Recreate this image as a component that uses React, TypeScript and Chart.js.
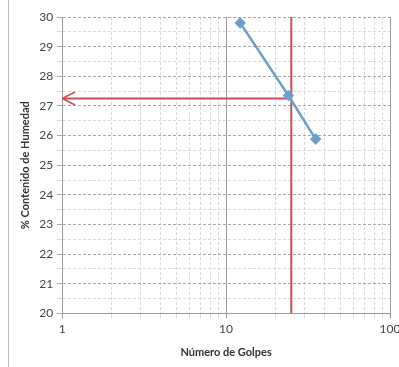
import React, { useEffect, useRef } from "react";
import { Chart, registerables } from "chart.js";

Chart.register(...registerables);

const golpes = [12.2, 24, 35.2];
const humedad = [29.8, 27.35, 25.88];
const lineaVertical = [
  { x: 25, y: 20 },
  { x: 25, y: 30 },
];
const lineaHorizontal = [
  { x: 25, y: 27.25 },
  { x: 1, y: 27.25 },
];
const puntaFlecha = [
  { x: 1.2, y: 27.47 },
  { x: 1, y: 27.25 },
  { x: 1.2, y: 27.03 },
];
const xTicks = [1, 2, 3, 4, 5, 6, 7, 8, 9, 10, 20, 30, 40, 50, 60, 70, 80, 90, 100];
const xLabels = [1, 10, 100];
const yTicks = [20, 20.5, 21, 21.5, 22, 22.5, 23, 23.5, 24, 24.5, 25, 25.5, 26, 26.5, 27, 27.5, 28, 28.5, 29, 29.5, 30];

const FONT = "Lato, 'Open Sans', sans-serif";

export default function App() {
  const ref = useRef<HTMLCanvasElement | null>(null);
  useEffect(() => {
    document.body.style.margin = "0";
    const ctx = ref.current!.getContext("2d")!;
    const chart = new Chart(ctx, {
      type: "line",
      data: {
        datasets: [
          {
            data: lineaVertical,
            borderColor: "#c9504f",
            borderWidth: 2,
            pointRadius: 0,
            order: 2,
          },
          {
            data: lineaHorizontal,
            borderColor: "#c9504f",
            borderWidth: 2,
            pointRadius: 0,
            order: 2,
          },
          {
            data: puntaFlecha,
            borderColor: "#c9504f",
            borderWidth: 1.5,
            pointRadius: 0,
            order: 2,
          },
          {
            data: golpes.map((g, i) => ({ x: g, y: humedad[i] })),
            borderColor: "#6a9fcc",
            backgroundColor: "#6a9fcc",
            borderWidth: 2.5,
            pointStyle: "rectRot",
            pointRadius: 4,
            order: 1,
          },
        ],
      },
      options: {
        animation: false,
        responsive: false,
        layout: { padding: { left: 15, right: 9, top: 17, bottom: 4 } },
        plugins: { legend: { display: false }, tooltip: { enabled: false } },
        scales: {
          x: {
            type: "logarithmic",
            min: 1,
            max: 100,
            afterBuildTicks: (s: any) => {
              s.ticks = xTicks.map((v) => ({ value: v }));
            },
            afterFit: (s: any) => {
              s.paddingRight = 0;
            },
            ticks: {
              autoSkip: false,
              maxRotation: 0,
              color: "#444",
              font: { family: FONT, size: 12 },
              padding: 4,
              callback: (v: any) => (xLabels.includes(Number(v)) ? String(v) : ""),
            },
            grid: {
              color: (c: any) => (xLabels.includes(c.tick?.value) ? "#9a9a9a" : "#d8d8d8"),
              lineWidth: 1,
              tickLength: 5,
              drawTicks: true,
            },
            border: {
              color: "#9a9a9a",
              dash: (c: any) => (xLabels.includes(c.tick?.value) ? [] : [3, 2]),
            },
            title: {
              display: true,
              text: "Número de Golpes",
              color: "#333",
              font: { family: FONT, size: 11, weight: "bold" },
              padding: { top: 5 },
            },
          },
          y: {
            min: 20,
            max: 30,
            afterBuildTicks: (s: any) => {
              s.ticks = yTicks.map((v) => ({ value: v }));
            },
            ticks: {
              autoSkip: false,
              color: "#444",
              font: { family: FONT, size: 12 },
              padding: 4,
              callback: (v: any) => (Number.isInteger(Number(v)) ? String(v) : ""),
            },
            grid: {
              color: (c: any) => (Number.isInteger(c.tick?.value) ? "#a8a8a8" : "#dadada"),
              lineWidth: 1,
              tickLength: 5,
            },
            border: {
              color: "#9a9a9a",
              dash: (c: any) => (c.tick?.value === 20 ? [] : [3, 2]),
            },
            title: {
              display: true,
              text: "% Contenido de Humedad",
              color: "#333",
              font: { family: FONT, size: 11, weight: "bold" },
              padding: { bottom: 3 },
            },
          },
        },
      },
      plugins: [
        {
          id: "marco",
          afterDraw(ch: any) {
            const c = ch.ctx;
            c.save();
            c.strokeStyle = "#bdbdbd";
            c.lineWidth = 1;
            c.beginPath();
            c.moveTo(8.5, 0);
            c.lineTo(8.5, 367);
            c.stroke();
            c.restore();
          },
        },
      ],
    } as any);
    return () => chart.destroy();
  }, []);
  return (
    <div style={{ position: "fixed", left: 0, top: 0, width: 399, height: 367, background: "#fff" }}>
      <canvas ref={ref} width={399} height={367} />
    </div>
  );
}
